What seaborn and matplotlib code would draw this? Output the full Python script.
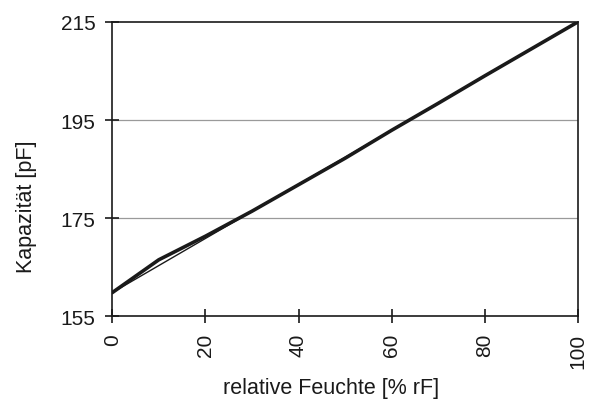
import matplotlib
matplotlib.use("Agg")
import matplotlib.pyplot as plt
import pandas as pd
import seaborn as sns

humidity = [0, 10, 20, 30, 40, 50, 60, 70, 80, 90, 100]
capacity_measured = [159.8, 166.5, 171.3, 176.4, 181.8, 187.2, 192.9, 198.4, 204.0, 209.5, 215.0]
humidity_fit = [0, 100]
capacity_fit = [159.8, 215.0]

y_ticks = [155, 175, 195, 215]
x_ticks = [0, 20, 40, 60, 80, 100]


def main() -> None:
    sns.set_theme(style="white")
    plt.rcParams["font.family"] = ["Liberation Sans", "DejaVu Sans"]

    fig, ax = plt.subplots(figsize=(5.97, 4.02), dpi=100)
    fig.subplots_adjust(left=0.188, right=0.968, top=0.943, bottom=0.211)

    measured = pd.DataFrame({"x": humidity, "y": capacity_measured})
    fit = pd.DataFrame({"x": humidity_fit, "y": capacity_fit})

    for y in [175, 195]:
        ax.axhline(y, color="#9a9a9a", linewidth=0.9, zorder=0)

    sns.lineplot(data=measured, x="x", y="y", ax=ax, color="#1a1a1a", linewidth=2.6)
    sns.lineplot(data=fit, x="x", y="y", ax=ax, color="#1a1a1a", linewidth=1.0)

    ax.set_xlim(0, 100)
    ax.set_ylim(155, 215)
    ax.set_xticks(x_ticks)
    ax.set_yticks(y_ticks)
    ax.set_xticklabels([str(v) for v in x_ticks], rotation=90)
    ax.tick_params(axis="both", direction="inout", length=10, width=1.2,
                   color="#1a1a1a", labelsize=15, labelcolor="#1a1a1a",
                   bottom=True, left=True, pad=7)

    for spine in ax.spines.values():
        spine.set_color("#1a1a1a")
        spine.set_linewidth(1.2)

    ax.set_xlabel("relative Feuchte [% rF]", fontsize=15.5, color="#1a1a1a")
    ax.set_ylabel("Kapazität [pF]", fontsize=15.5, color="#1a1a1a")
    ax.xaxis.set_label_coords(0.47, -0.208)
    ax.yaxis.set_label_coords(-0.161, 0.374)

    fig.savefig("out.png", dpi=100)
    plt.close(fig)


if __name__ == "__main__":
    main()
